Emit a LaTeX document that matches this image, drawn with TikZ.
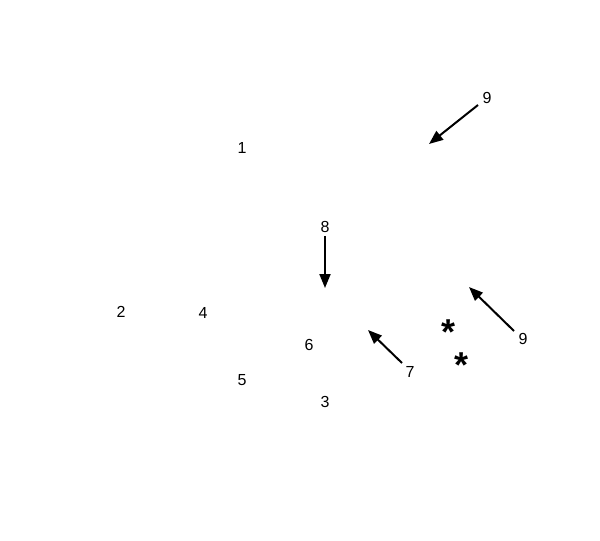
\documentclass[tikz,border=0pt]{standalone}
\usepackage{fontspec}
\setmainfont{Liberation Sans}
\usetikzlibrary{arrows.meta}
\begin{document}
\begin{tikzpicture}[x=1pt,y=-1pt,
  lbl/.style={font=\fontsize{16}{18}\selectfont, inner sep=0pt},
  star/.style={font=\fontsize{36}{38}\selectfont\bfseries, inner sep=0pt, anchor=north},
  arr/.style={line width=2pt, -{Triangle[length=14pt,width=11pt]}}]
\useasboundingbox (0,0) rectangle (600,541);
\node[lbl] (n1) at (242,148) {1};
\node[lbl] (n2) at (121,312) {2};
\node[lbl] (n4) at (203,313) {4};
\node[lbl] (n6) at (309,345) {6};
\node[lbl] (n5) at (242,380) {5};
\node[lbl] (n3) at (325,402) {3};
\node[lbl] (n8) at (325,227) {8};
\node[lbl] (n7) at (410,372) {7};
\node[lbl] (n9a) at (487,98) {9};
\node[lbl] (n9b) at (523,339) {9};
\node[star] (s1) at (449,320) {*};
\node[star] (s2) at (462,353) {*};
\coordinate (t9a) at (429,144);
\coordinate (t8) at (325,288);
\coordinate (t7) at (368,330);
\coordinate (t9b) at (469,287);
\draw[arr] (478,105) coordinate (f9a) -- (t9a);
\draw[arr] (n8.south) ++(0,3) coordinate (f8) -- (t8);
\draw[arr] (402,363) coordinate (f7) -- (t7);
\draw[arr] (514,331) coordinate (f9b) -- (t9b);
\end{tikzpicture}
\end{document}
